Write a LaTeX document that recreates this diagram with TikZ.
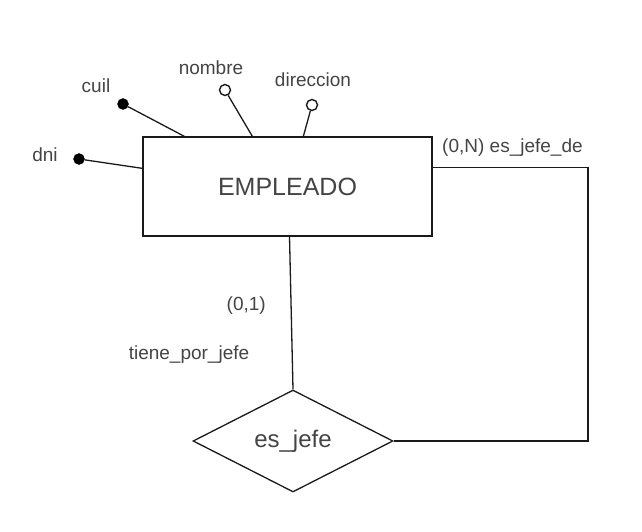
\documentclass[tikz,border=0pt]{standalone}
\usepackage{fontspec}
\setmainfont{Liberation Sans}
\usepackage{tikz}
\usetikzlibrary{shapes.geometric,positioning,calc}
\definecolor{txtgray}{HTML}{444444}
\definecolor{linegray}{HTML}{1A1A1A}

\begin{document}
\begin{tikzpicture}[
    x=1pt, y=-1pt,
    entity/.style={draw=linegray, line width=1.3pt, rectangle,
        minimum width=289pt, minimum height=99pt, inner sep=0pt,
        font=\fontsize{25}{28}\selectfont, text=txtgray},
    relation/.style={draw=linegray, line width=1.3pt, diamond, aspect=2,
        minimum width=200pt, minimum height=102pt, inner sep=0pt,
        font=\fontsize{24}{27}\selectfont, text=txtgray},
    keyattr/.style={circle, fill=black, draw=black, minimum size=11pt, inner sep=0pt},
    attr/.style={circle, fill=white, draw=linegray, line width=1.4pt, minimum size=11pt, inner sep=0pt},
    lbl/.style={font=\fontsize{19}{22}\selectfont, text=txtgray, inner sep=0pt},
    link/.style={draw=linegray, line width=1.3pt}
]
\useasboundingbox (0,0) rectangle (642,532);

\node[entity] (E) at (287.5,186.5) {EMPLEADO};
\node[relation] (R) at (293,441) {es\_jefe};

\node[keyattr] (K1) at (123,104) {};
\node[attr] (A1) at (225,90) {};
\node[attr] (A2) at (312,105) {};
\node[keyattr] (K2) at (79,159) {};

\node[lbl] (L1) at (96,86) {cuil};
\node[lbl] (L2) at (211,68) {nombre};
\node[lbl] (L3) at (313,80) {direccion};
\node[lbl] (L4) at (45,155) {dni};

\draw[link] (K1) -- ([xshift=42pt]E.north west);
\draw[link] (A1) -- ([xshift=110pt]E.north west);
\draw[link] (A2) -- ([xshift=161pt]E.north west);
\draw[link] (K2) -- ([yshift=-32pt]E.north west);

\coordinate (C1) at (588,441);
\draw[link] ([xshift=2pt]E.south) -- (R.north);
\draw[link] (R.east) -- (C1) |- ([yshift=-31pt]E.north east);

\node[lbl, anchor=east] (M1) at (266,306) {(0,1)};
\node[lbl] (M2) at (189,355) {tiene\_por\_jefe};
\node[lbl, anchor=west] (M3) at (442,148) {(0,N) es\_jefe\_de};

\end{tikzpicture}
\end{document}
